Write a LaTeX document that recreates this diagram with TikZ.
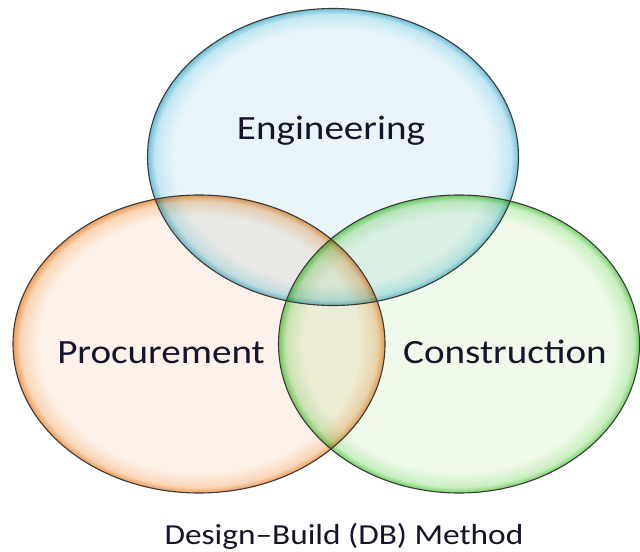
\documentclass[tikz,border=0pt]{standalone}
\usepackage{fontspec}
\newfontfamily\lblfont[FakeStretch=1.15]{Carlito}

% fill colours: pale interior, soft glow, saturated rim
\definecolor{bIn}{HTML}{EAF5FA}
\definecolor{bMid}{HTML}{C2E7F2}
\definecolor{bEdge}{HTML}{6FBFD6}
\definecolor{oIn}{HTML}{FDF2EA}
\definecolor{oMid}{HTML}{FAD6B6}
\definecolor{oEdge}{HTML}{EE9C58}
\definecolor{gIn}{HTML}{EFFAEA}
\definecolor{gMid}{HTML}{CBEFC2}
\definecolor{gEdge}{HTML}{74D266}
\definecolor{rim}{HTML}{3A3A3A}
\definecolor{ink}{HTML}{14142A}

% soft inner glow near the rim of each ellipse
\pgfdeclareradialshading{glowblue}{\pgfpointorigin}{color(0bp)=(bIn); color(21.5bp)=(bIn); color(24bp)=(bMid); color(25bp)=(bEdge); color(50bp)=(bEdge)}
\pgfdeclareradialshading{gloworange}{\pgfpointorigin}{color(0bp)=(oIn); color(21.5bp)=(oIn); color(24bp)=(oMid); color(25bp)=(oEdge); color(50bp)=(oEdge)}
\pgfdeclareradialshading{glowgreen}{\pgfpointorigin}{color(0bp)=(gIn); color(21.5bp)=(gIn); color(24bp)=(gMid); color(25bp)=(gEdge); color(50bp)=(gEdge)}

\begin{document}
\begin{tikzpicture}[x=1bp,y=-1bp,
  rimline/.style={draw=rim, line width=1.1bp},
  setlabel/.style={text=ink, anchor=base, inner sep=0pt, font=\lblfont\fontsize{34bp}{40bp}\selectfont},
  caption/.style={text=ink, anchor=base, inner sep=0pt, font=\lblfont\fontsize{29bp}{34bp}\selectfont}]
\fill[white] (0,0) rectangle (640,552);
\useasboundingbox (0,0) rectangle (640,552);

\coordinate (ce) at (333,157);
\coordinate (cp) at (199,344);
\coordinate (cc) at (459,344);

\begin{scope}[blend mode=multiply]
  \shade[shading=glowblue]   (ce) ellipse [x radius=185.5, y radius=148.5];
  \shade[shading=gloworange] (cp) ellipse [x radius=186, y radius=149];
  \shade[shading=glowgreen]  (cc) ellipse [x radius=180.5, y radius=149];
\end{scope}

\draw[rimline] (ce) ellipse [x radius=185.5, y radius=148.5];
\draw[rimline] (cp) ellipse [x radius=186, y radius=149];
\draw[rimline] (cc) ellipse [x radius=180.5, y radius=149];

\node[setlabel] (eng)  at (331,140) {Engineering};
\node[setlabel] (proc) at (161,363) {Procurement};
\node[setlabel] (cons) at (505,363) {Construction};
\node[caption]  (meth) at (344,544) {Design–Build (DB) Method};
\end{tikzpicture}
\end{document}
